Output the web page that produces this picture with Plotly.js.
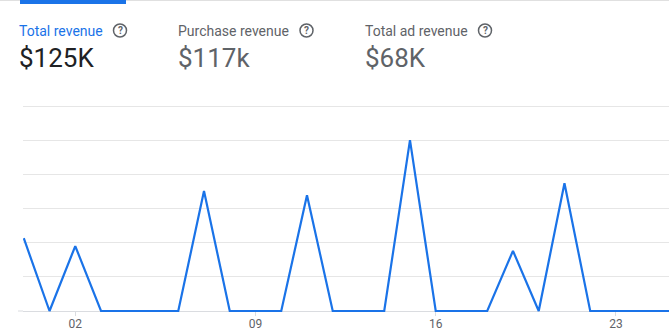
<!DOCTYPE html>
<html>
<head>
<meta charset="utf-8">
<script src="https://cdn.plot.ly/plotly-3.0.1.min.js"></script>
<style>html,body{margin:0;padding:0;background:#fff;}#chart{width:669px;height:332px;}</style>
</head>
<body>
<div id="chart"></div>
<script>
// ---- data ----
const days = [0,1,2,3,4,5,6,7,8,9,10,11,12,13,14,15,16,17,18,19,20,21,22,23,24,25,26];
const revenue = [10650,0,9500,0,0,0,0,17550,0,0,0,16950,0,0,0,25000,0,0,0,8800,0,18700,0,0,0,0,0];
const tickDays = [2,9,16,23];
const tickLabels = ["02","09","16","23"];
const metricLabels = ["Total revenue","Purchase revenue","Total ad revenue"];
const metricValues = ["$125K","$117k","$68K"];

// ---- layout helpers (pixel -> paper) ----
const W = 669, H = 332, ML = 23, MR = 0, MT = 100, MB = 18;
const PW = W - ML - MR, PH = H - MT - MB;
const px = x => (x - ML) / PW;
const py = y => (H - MB - y) / PH;
const unitPx = 205 / 30000;            // pixels per revenue unit
const yMin = -3 / unitPx, yMax = 30000 + 6 / unitPx;

const metricX = [17, 176, 363];
const iconX = [120, 306.5, 485];
const labelColors = ["#1a73e8","#5f6368","#5f6368"];
const valueColors = ["#202124","#5f6368","#5f6368"];

const annotations = [];
const shapes = [];
// top border & active tab indicator
shapes.push({type:'line', xref:'paper', yref:'paper', x0:px(0), x1:px(W), y0:py(0.5), y1:py(0.5), line:{color:'#e0e0e0', width:1}});
shapes.push({type:'rect', xref:'paper', yref:'paper', x0:px(20), x1:px(126), y0:py(0), y1:py(4), fillcolor:'#1a73e8', line:{width:0}});
// baseline extension
shapes.push({type:'line', xref:'paper', yref:'y', x0:px(18), x1:px(23), y0:0, y1:0, line:{color:'#dadce0', width:1}, layer:'below'});

metricLabels.forEach((t, i) => {
  annotations.push({xref:'paper', yref:'paper', x:px(metricX[i]), y:py(30.5), xanchor:'left', yanchor:'middle',
    text:t, showarrow:false, font:{family:'Roboto', size:14, color:labelColors[i]}});
  annotations.push({xref:'paper', yref:'paper', x:px(metricX[i] - 0.5), y:py(58), xanchor:'left', yanchor:'middle',
    text:metricValues[i], showarrow:false, font:{family:'Roboto', size:26, color:valueColors[i]}});
  const r = 6.5, cx = iconX[i], cy = 30.5;
  shapes.push({type:'circle', xref:'paper', yref:'paper', x0:px(cx - r), x1:px(cx + r), y0:py(cy + r), y1:py(cy - r),
    line:{color:'#5f6368', width:1.5}});
  annotations.push({xref:'paper', yref:'paper', x:px(cx), y:py(cy), xanchor:'center', yanchor:'middle',
    text:'<b>?</b>', showarrow:false, font:{family:'Roboto', size:10, color:'#5f6368'}});
});

const trace = {
  x: days, y: revenue, type:'scatter', mode:'lines',
  line:{color:'#1a73e8', width:2.2}, hoverinfo:'skip'
};

const layout = {
  width:W, height:H, margin:{l:ML, r:MR, t:MT, b:MB, pad:0},
  paper_bgcolor:'#fff', plot_bgcolor:'#fff', showlegend:false,
  font:{family:'Roboto', color:'#5f6368'},
  xaxis:{range:[-0.03, 25.06], anchor:'free', position:3/PH, showgrid:false, zeroline:false, showline:false,
    tickmode:'array', tickvals:tickDays, ticktext:tickLabels, ticks:'outside', ticklen:4, tickcolor:'#dadce0', tickwidth:1,
    ticklabelstandoff:-2,
    tickfont:{family:'Roboto', size:12, color:'#5f6368'}, fixedrange:true},
  yaxis:{range:[yMin, yMax], dtick:5000, tick0:0, showgrid:true, gridcolor:'#e6e6e6', gridwidth:1,
    zeroline:true, zerolinecolor:'#dadce0', zerolinewidth:1, showticklabels:false, ticks:'', showline:false, fixedrange:true},
  shapes: shapes,
  annotations: annotations
};

Plotly.newPlot('chart', [trace], layout, {displayModeBar:false, staticPlot:true});
</script>
</body>
</html>
